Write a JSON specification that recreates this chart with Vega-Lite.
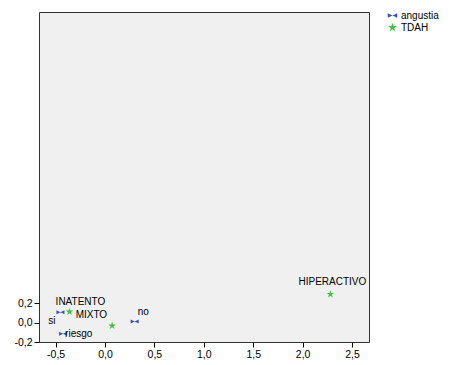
{
  "$schema": "https://vega.github.io/schema/vega-lite/v6.json",
  "width": 330,
  "height": 330,
  "autosize": "none",
  "padding": {"left": 39, "top": 12, "right": 80, "bottom": 23},
  "background": "white",
  "config": {
    "view": {"fill": "#f0f0f0", "stroke": "#333333", "strokeWidth": 1},
    "font": "Liberation Sans",
    "axis": {"grid": false, "domain": false, "tickColor": "#000000", "tickSize": 5, "labelFont": "Liberation Sans", "labelFontSize": 10.5, "labelColor": "#000000", "title": null}
  },
  "data": {
    "values": [
      {"x": -0.451, "y": 0.105, "label": "si", "group": "angustia"},
      {"x": -0.424, "y": -0.116, "label": "riesgo", "group": "angustia"},
      {"x": 0.30, "y": 0.01, "label": "no", "group": "angustia"},
      {"x": -0.36, "y": 0.11, "label": "INATENTO", "group": "TDAH"},
      {"x": 0.072, "y": -0.034, "label": "MIXTO", "group": "TDAH"},
      {"x": 2.281, "y": 0.291, "label": "HIPERACTIVO", "group": "TDAH"}
    ]
  },
  "encoding": {
    "x": {"field": "x", "type": "quantitative", "scale": {"domain": [-0.668, 2.672], "nice": false, "zero": false}, "axis": {"values": [-0.5, 0, 0.5, 1, 1.5, 2, 2.5], "labelExpr": "replace(replace(format(datum.value, '.1f'), '.', ','), '\u2212', '-')"}},
    "y": {"field": "y", "type": "quantitative", "scale": {"domain": [-0.2, 3.186], "nice": false, "zero": false}, "axis": {"values": [-0.2, 0, 0.2], "labelExpr": "replace(replace(format(datum.value, '.1f'), '.', ','), '\u2212', '-')"}}
  },
  "layer": [
    {
      "mark": {"type": "point", "filled": true, "opacity": 1, "size": 64},
      "encoding": {
        "color": {"field": "group", "type": "nominal", "scale": {"domain": ["angustia", "TDAH"], "range": ["#3a52b8", "#3cc43c"]}, "legend": {"title": null, "orient": "none", "legendX": 348, "legendY": -2, "labelFontSize": 10, "labelFont": "Liberation Sans", "labelColor": "#000000", "symbolSize": 90, "rowPadding": 1, "labelOffset": 3, "symbolFillColor": "transparent", "symbolStrokeWidth": 1}},
        "shape": {"field": "group", "type": "nominal", "scale": {"domain": ["angustia", "TDAH"], "range": ["M-1,-0.5L1,0.5L1,-0.5L-1,0.5Z", "M0,-1L0.223,-0.307L0.951,-0.309L0.361,0.117L0.588,0.809L0,0.38L-0.588,0.809L-0.361,0.117L-0.951,-0.309L-0.223,-0.307Z"]}}
      }
    },
    {
      "transform": [{"filter": "datum.label == 'si'"}],
      "mark": {"type": "text", "align": "right", "baseline": "alphabetic", "dx": -5, "dy": 12, "fontSize": 10, "color": "#000000"},
      "encoding": {"text": {"field": "label"}}
    },
    {
      "transform": [{"filter": "datum.label == 'riesgo'"}],
      "mark": {"type": "text", "align": "left", "baseline": "alphabetic", "dx": 2, "dy": 3, "fontSize": 10, "color": "#000000"},
      "encoding": {"text": {"field": "label"}}
    },
    {
      "transform": [{"filter": "datum.label == 'no'"}],
      "mark": {"type": "text", "align": "left", "baseline": "alphabetic", "dx": 3, "dy": -7, "fontSize": 10, "color": "#000000"},
      "encoding": {"text": {"field": "label"}}
    },
    {
      "transform": [{"filter": "datum.label == 'INATENTO'"}],
      "mark": {"type": "text", "align": "center", "baseline": "alphabetic", "dx": 11, "dy": -7, "fontSize": 10, "color": "#000000"},
      "encoding": {"text": {"field": "label"}}
    },
    {
      "transform": [{"filter": "datum.label == 'MIXTO'"}],
      "mark": {"type": "text", "align": "right", "baseline": "alphabetic", "dx": -5, "dy": -8, "fontSize": 10, "color": "#000000"},
      "encoding": {"text": {"field": "label"}}
    },
    {
      "transform": [{"filter": "datum.label == 'HIPERACTIVO'"}],
      "mark": {"type": "text", "align": "center", "baseline": "alphabetic", "dx": 2, "dy": -9, "fontSize": 10, "color": "#000000"},
      "encoding": {"text": {"field": "label"}}
    }
  ]
}
